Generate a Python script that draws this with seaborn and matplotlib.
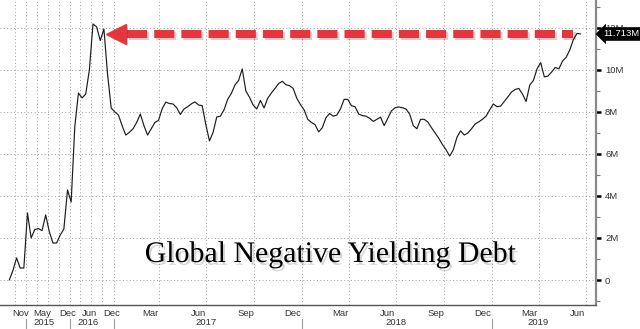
import numpy as np
import pandas as pd
import matplotlib
matplotlib.use("Agg")
import matplotlib.pyplot as plt
import matplotlib.transforms as mtransforms
import matplotlib.patheffects as pe
import seaborn as sns

# Global negative-yielding debt (in the terminal's "M" axis units).
# Monthly observations up to Dec 2016, weekly (Fridays) afterwards.
monthly_start = "2014-08-01"
monthly_values = [
    0.0, 0.45, 1.05, 0.57, 0.57, 3.19, 2.0, 2.4, 2.45, 2.35,
    3.1, 2.3, 1.76, 1.76, 2.14, 2.43, 4.29, 3.71, 7.3, 8.9,
    8.67, 8.85, 10.0, 12.19, 12.05, 11.4, 11.95, 9.8, 8.19,
]
weekly_start = "2017-01-06"
weekly_end = "2019-06-21"
weekly_values = [
    # 2017
    8.0, 7.85, 7.35, 6.9, 7.03, 7.2, 7.5, 7.9, 7.35, 6.9,
    7.2, 7.5, 7.6, 8.15, 8.47, 8.4, 8.38, 8.2, 7.88, 8.14,
    8.25, 8.38, 8.48, 8.33, 8.3, 7.4, 6.62, 7.03, 7.76, 7.8,
    8.1, 8.6, 8.88, 9.28, 9.5, 10.05, 9.0, 8.7, 8.33, 8.14,
    8.55, 8.19, 8.65, 8.9, 9.12, 9.35, 9.46, 9.3, 9.25, 9.12,
    8.65, 8.35,
    # 2018
    8.1, 7.65, 7.5, 7.4, 7.05, 7.25, 7.72, 7.93, 7.8, 7.85,
    8.15, 8.6, 8.6, 8.3, 8.25, 7.9, 7.83, 7.8, 7.7, 7.55,
    7.65, 7.75, 7.35, 7.7, 8.05, 8.2, 8.24, 8.2, 8.14, 7.9,
    7.35, 7.2, 7.65, 7.65, 7.52, 7.25, 7.0, 6.75, 6.45, 6.2,
    5.9, 6.2, 6.8, 7.1, 6.9, 7.0, 7.2, 7.43, 7.53, 7.65,
    7.8, 8.1,
    # 2019
    8.38, 8.25, 8.28, 8.5, 8.72, 8.95, 9.07, 9.12, 8.85, 8.5,
    9.28, 9.5, 10.05, 10.35, 9.67, 9.71, 9.9, 10.12, 10.05, 10.42,
    10.6, 10.95, 11.45, 11.74, 11.713,
]
last_label = "11.713M"

month_labels = ["Nov", "May", "Dec", "Jun", "Dec", "Mar", "Jun", "Sep", "Dec",
                "Mar", "Jun", "Sep", "Dec", "Mar", "Jun"]
month_label_dates = ["2014-11-15", "2015-05-15", "2015-12-15", "2016-06-15",
                     "2016-12-15", "2017-03-15", "2017-06-15", "2017-09-15",
                     "2017-12-15", "2018-03-15", "2018-06-15", "2018-09-15",
                     "2018-12-15", "2019-03-15", "2019-06-15"]
year_labels = ["2015", "2016", "2017", "2018", "2019"]
year_label_dates = ["2015-06-01", "2016-06-01", "2017-07-01", "2018-07-01", "2019-04-01"]

y_ticks = [0, 2, 4, 6, 8, 10, 12]
y_tick_labels = ["0", "2M", "4M", "6M", "8M", "10M", "12M"]
title = "Global Negative Yielding Debt"

# ---- build the observation axis (one slot per observation) ----
monthly_dates = pd.date_range(monthly_start, periods=len(monthly_values), freq="MS") + pd.Timedelta(days=14)
weekly_dates = pd.date_range(weekly_start, weekly_end, freq="W-FRI")
dates = monthly_dates.append(weekly_dates)
values = np.array(monthly_values + weekly_values, dtype=float)
idx = np.arange(len(values))
t_ns = dates.values.astype("datetime64[ns]").astype(np.int64)
week_ns = pd.Timedelta(days=7).value


def pos(d):
    """Map a calendar date onto the observation-index axis."""
    v = pd.Timestamp(d).value
    if v > t_ns[-1]:
        return idx[-1] + (v - t_ns[-1]) / week_ns
    return float(np.interp(v, t_ns, idx))


sns.set_theme(style="white")
plt.rcParams["font.family"] = ["Liberation Sans", "DejaVu Sans"]

fig = plt.figure(figsize=(6.4, 3.29), dpi=100)
ax = fig.add_axes([0.0, 24 / 329, 596 / 640, 305 / 329])

sns.lineplot(x=idx, y=values, ax=ax, color="#1c1c1c", lw=0.85, zorder=3)

ax.set_xlim(-2.55, 161.2)
ax.set_ylim(-1.19, 13.33)
ax.set_xlabel("")
ax.set_ylabel("")

# dotted grid: quarter starts and every 2M
grid_style = dict(color="#9c9c9c", lw=0.7, ls=(0, (1, 2.5)), zorder=0)
for q in pd.date_range("2014-10-01", "2019-07-01", freq="QS"):
    ax.axvline(pos(q), **grid_style)
for yv in y_ticks:
    ax.axhline(yv, **grid_style)

# spines
ax.spines["left"].set_visible(False)
ax.spines["top"].set_visible(False)
ax.spines["bottom"].set_color("#555555")
ax.spines["bottom"].set_linewidth(1.0)
ax.spines["right"].set_color("#8a8a8a")
ax.spines["right"].set_linewidth(1.6)

# right value axis
ax.yaxis.tick_right()
ax.set_yticks(y_ticks, y_tick_labels)
ax.set_yticks([-1, 1, 3, 5, 7, 9, 11, 13], minor=True)
ax.tick_params(axis="y", which="major", direction="out", length=3.5, width=1.8,
               color="black", pad=3, labelsize=6.8, labelcolor="#333333")
ax.tick_params(axis="y", which="minor", direction="out", length=3, width=0.8,
               color="#777777")

# bottom time axis
ax.set_xticks([pos(d) for d in month_label_dates], month_labels)
minor_dates = list(pd.date_range("2014-10-01", "2016-10-01", freq="QS")) + \
    list(pd.date_range("2017-01-01", "2019-07-01", freq="MS"))
ax.set_xticks([pos(d) for d in minor_dates], minor=True)
ax.tick_params(axis="x", which="major", length=0, pad=3, labelsize=6.8,
               labelcolor="#333333")
ax.tick_params(axis="x", which="minor", direction="in", length=2.5, width=0.7,
               color="#555555")

xtrans = ax.get_xaxis_transform()
for lab, d in zip(year_labels, year_label_dates):
    ax.text(pos(d), -0.059, lab, transform=xtrans, ha="center", va="center",
            fontsize=6.8, color="#333333", clip_on=False)
for yr in pd.date_range("2015-01-01", "2019-01-01", freq="YS"):
    p = pos(yr)
    ax.plot([p, p], [-0.045, -0.08], transform=xtrans, color="#9a9a9a",
            lw=0.8, clip_on=False)

# red dashed arrow at the latest level, pointing back to the 2016 peak
red = "#e4373d"
level = values[-1]
peak = int(np.argmax(values))
after = np.where(values[peak:] < level)[0][0] + peak
cross = after - 1 + (values[after - 1] - level) / (values[after - 1] - values[after])
tip = cross + 2.1
shadow = [pe.SimpleLineShadow(offset=(1.5, -1.5), shadow_color="k", alpha=0.2), pe.Normal()]
ax.plot([tip + 5.6, idx[-1] - 2.0], [level, level], color=red, lw=5.8,
        ls=(0, (2.5, 0.875)), dash_capstyle="butt", zorder=4, path_effects=shadow)
head_tr = ax.transData + mtransforms.ScaledTranslation(7.2 / 72, 0, fig.dpi_scale_trans)
ax.plot([tip], [level], marker="<", ms=14.4, color=red, mec=red, transform=head_tr,
        zorder=4, clip_on=False,
        path_effects=[pe.SimplePatchShadow(offset=(1.5, -1.5), alpha=0.2), pe.Normal()])

# last value tag on the right axis
ax.annotate(last_label, xy=(1.0, level), xycoords=("axes fraction", "data"),
            xytext=(7, 0), textcoords="offset pixels", ha="left", va="center",
            fontsize=6.8, color="white", zorder=10, annotation_clip=False,
            bbox=dict(boxstyle="larrow,pad=0.2", fc="black", ec="black", lw=0.5))

# chart title
ax.text(0.554, 0.141, title, transform=ax.transAxes, ha="center", va="baseline",
        fontsize=21.5, family="Liberation Serif", color="black", zorder=5,
        path_effects=[pe.withSimplePatchShadow(offset=(1.5, -2), shadow_rgbFace="k",
                                               alpha=0.18)])

fig.savefig("out.png", dpi=100)
